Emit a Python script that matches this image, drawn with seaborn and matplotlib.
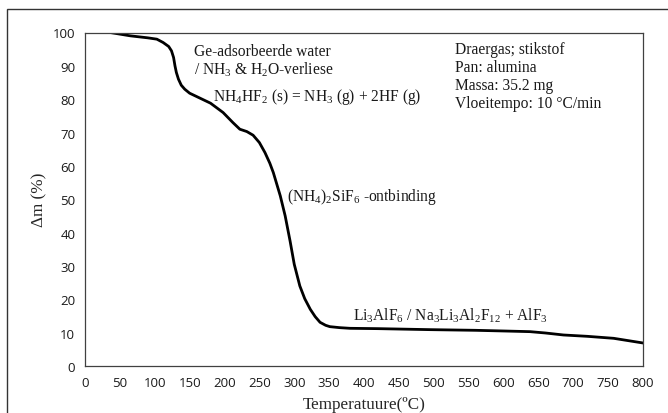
import matplotlib
matplotlib.use("Agg")
import matplotlib.pyplot as plt
import seaborn as sns
import pandas as pd
from matplotlib.patches import Rectangle

temperature = [17, 36, 65, 90, 103, 112, 120, 124, 127, 129, 131, 134, 138, 143, 150, 165, 180, 198, 212, 222, 232, 241, 250,
               258, 265, 270, 275, 280, 287, 294, 300, 308, 315, 323, 330, 337, 345, 351, 365, 380, 420,
               495, 560, 600, 638, 660, 686, 720, 758, 800]
mass_pct = [100, 100, 99.0, 98.4, 98.0, 97.0, 95.8, 94.5, 92.5, 90.0, 88.0, 86.0, 84.2, 83.0, 81.8, 80.3, 78.8, 76.0, 73.0, 71.0, 70.3, 69.2, 67.0,
            64.0, 60.8, 58.0, 54.5, 51.0, 45.0, 37.5, 30.5, 24.0, 20.2, 17.0, 14.8, 13.1, 12.2, 11.8, 11.5, 11.3, 11.2,
            10.9, 10.7, 10.5, 10.3, 9.9, 9.3, 8.9, 8.3, 6.9]
xticks = list(range(0, 801, 50))
yticks = list(range(0, 101, 10))

df = pd.DataFrame({"T": temperature, "m": mass_pct})

sns.set_style("white")
fig = plt.figure(figsize=(6.68, 4.14), dpi=100)
ax = fig.add_axes([85/668, 1-367/414, (643-85)/668, (367-33.5)/414])

sns.lineplot(data=df, x="T", y="m", ax=ax, color="black", linewidth=2.0, sort=False,
             solid_joinstyle="round", solid_capstyle="round")

ax.set_xlim(0, 800)
ax.set_ylim(0, 100)
ax.set_xticks(xticks)
ax.set_yticks(yticks)
ax.tick_params(axis="both", direction="out", length=4, width=0.8, color="#404040",
               labelsize=9.5, labelcolor="#1a1a1a", pad=3)
for lab in ax.get_xticklabels() + ax.get_yticklabels():
    lab.set_family("Open Sans")
for s in ax.spines.values():
    s.set_color("#404040")
    s.set_linewidth(0.9)

serif = "Liberation Serif"
ax.set_xlabel("Temperatuure(ºC)", family=serif, fontsize=12.3, labelpad=5)
ax.set_ylabel("Δm (%)", family=serif, fontsize=12.3, labelpad=4)

def px(x, y):
    return (x - 85) / (643 - 85) * 800, (367 - y) / (367 - 33.5) * 100

kw = dict(family=serif, fontsize=11.2, color="#1a1a1a", va="center", ha="left")
ax.text(*px(194, 52), "Ge-adsorbeerde water", **kw)
ax.text(*px(194, 70), r"/ NH$\mathregular{_3}$ & H$\mathregular{_2}$O-verliese", **kw)
ax.text(*px(213, 97), r"NH$\mathregular{_4}$HF$\mathregular{_2}$ (s) = NH$\mathregular{_3}$ (g) + 2HF (g)", **kw)
ax.text(*px(287, 197), r"(NH$\mathregular{_4}$)$\mathregular{_2}$SiF$\mathregular{_6}$ -ontbinding", **kw)
ax.text(*px(353, 316), r"Li$\mathregular{_3}$AlF$\mathregular{_6}$ / Na$\mathregular{_3}$Li$\mathregular{_3}$Al$\mathregular{_2}$F$\mathregular{_{12}}$ + AlF$\mathregular{_3}$", **kw)
for i, line in enumerate(["Draergas; stikstof", "Pan: alumina", "Massa: 35.2 mg", "Vloeitempo: 10 °C/min"]):
    ax.text(*px(455, 50 + i * 18), line, **kw)

fig.patches.append(Rectangle((7/668, -0.1), 1.2, (1 - 10/414) + 0.1, transform=fig.transFigure,
                             fill=False, edgecolor="#333333", linewidth=1.0))

fig.savefig("out.png", dpi=100)
